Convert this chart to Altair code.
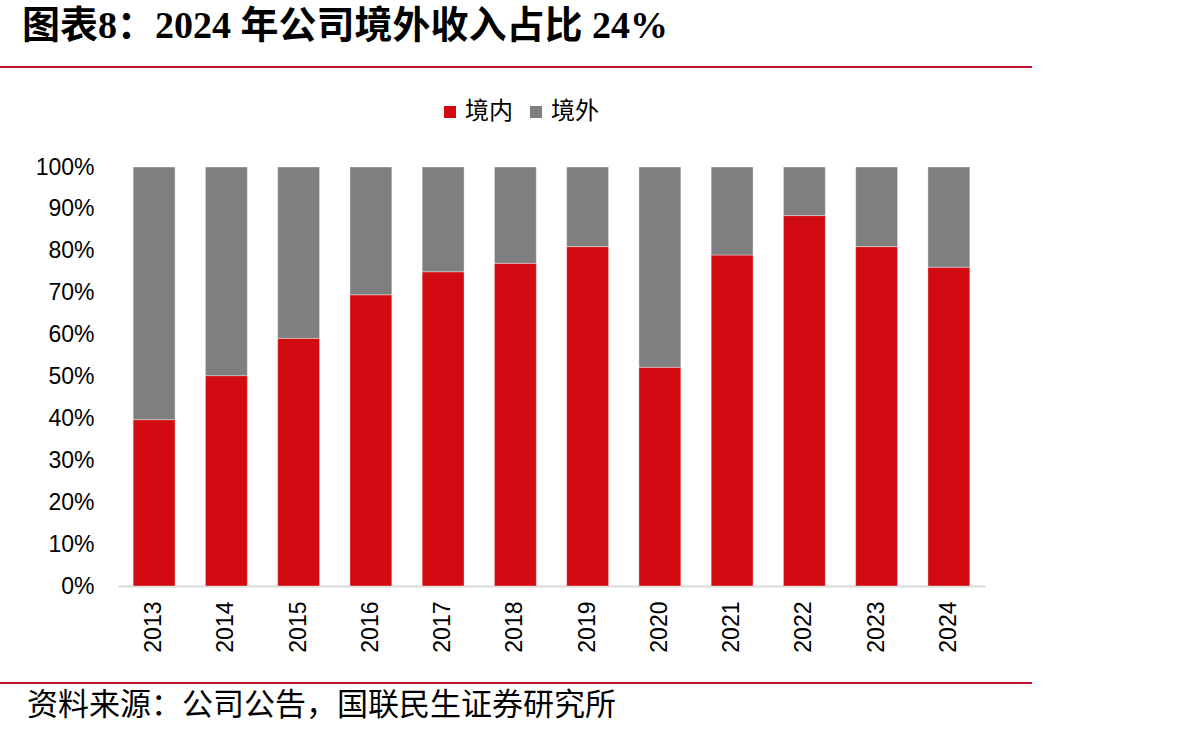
import altair as alt
import pandas as pd

years = ["2013", "2014", "2015", "2016", "2017", "2018", "2019", "2020", "2021", "2022", "2023", "2024"]
domestic = [39.7, 50.2, 59.1, 69.5, 75.0, 77.0, 81.0, 52.2, 79.0, 88.4, 81.0, 76.1]
overseas = [60.3, 49.8, 40.9, 30.5, 25.0, 23.0, 19.0, 47.8, 21.0, 11.6, 19.0, 23.9]
series = ["境内", "境外"]
colors = ["#D20A11", "#7F7F7F"]
title_text = "图表8：2024 年公司境外收入占比 24%"
source_text = "资料来源：公司公告，国联民生证券研究所"

rows = []
for i, y in enumerate(years):
    rows.append({"year": y, "series": series[0], "value": domestic[i], "ord": 0})
    rows.append({"year": y, "series": series[1], "value": overseas[i], "ord": 1})
df = pd.DataFrame(rows)

W, H = 867, 419
PL, PT = 118, 167

bars = alt.Chart(df).mark_bar(stroke="white", strokeWidth=0.6, strokeOpacity=0.6).encode(
    x=alt.X("year:N", sort=years, title=None,
            scale=alt.Scale(paddingInner=0.42, paddingOuter=0.21),
            axis=alt.Axis(labelAngle=-90, labelFont="Liberation Sans", labelFontSize=23,
                          labelColor="black", labelPadding=15, ticks=False,
                          domainColor="#D9D9D9", domainWidth=2, grid=False)),
    y=alt.Y("value:Q", stack="zero", title=None,
            scale=alt.Scale(domain=[0, 100], nice=False),
            axis=alt.Axis(values=list(range(0, 101, 10)), labelExpr="datum.value + '%'",
                          labelFont="Liberation Sans", labelFontSize=23, labelColor="black",
                          labelPadding=24, ticks=False, domain=False, grid=False)),
    color=alt.Color("series:N", sort=series,
                    scale=alt.Scale(domain=series, range=colors),
                    legend=alt.Legend(orient="none", legendX=320, legendY=-67,
                                      direction="horizontal", title=None,
                                      symbolType="square", symbolSize=144,
                                      symbolStrokeWidth=0, labelFont="Noto Sans CJK SC",
                                      labelFontSize=24, labelColor="black",
                                      columnPadding=11, labelOffset=3, padding=0)),
    order=alt.Order("ord:Q", sort="ascending"),
)

title = alt.Chart(pd.DataFrame({"t": [title_text]})).mark_text(
    align="left", baseline="middle", font="Liberation Serif, Noto Sans CJK SC",
    fontSize=38, fontWeight="bold", color="black"
).encode(text="t:N", x=alt.value(22 - PL), y=alt.value(27 - PT))

source = alt.Chart(pd.DataFrame({"t": [source_text]})).mark_text(
    align="left", baseline="middle", font="Noto Sans CJK SC",
    fontSize=31, color="black"
).encode(text="t:N", x=alt.value(27 - PL), y=alt.value(706 - PT))

line_top = alt.Chart(pd.DataFrame({"a": [0]})).mark_rule(color="#C0102E", strokeWidth=2).encode(
    x=alt.value(0 - PL), x2=alt.value(1032 - PL), y=alt.value(67 - PT))
line_bot = alt.Chart(pd.DataFrame({"a": [0]})).mark_rule(color="#C0102E", strokeWidth=2).encode(
    x=alt.value(0 - PL), x2=alt.value(1032 - PL), y=alt.value(683 - PT))

chart = alt.layer(bars, title, source, line_top, line_bot).properties(
    width=W, height=H,
    autosize=alt.AutoSizeParams(type="none"),
    padding={"left": PL, "top": PT, "right": 1187 - PL - W, "bottom": 736 - PT - H},
    background="white",
).configure_view(stroke=None)

chart.save("out.html", embed_options={"renderer": "svg", "actions": False})
